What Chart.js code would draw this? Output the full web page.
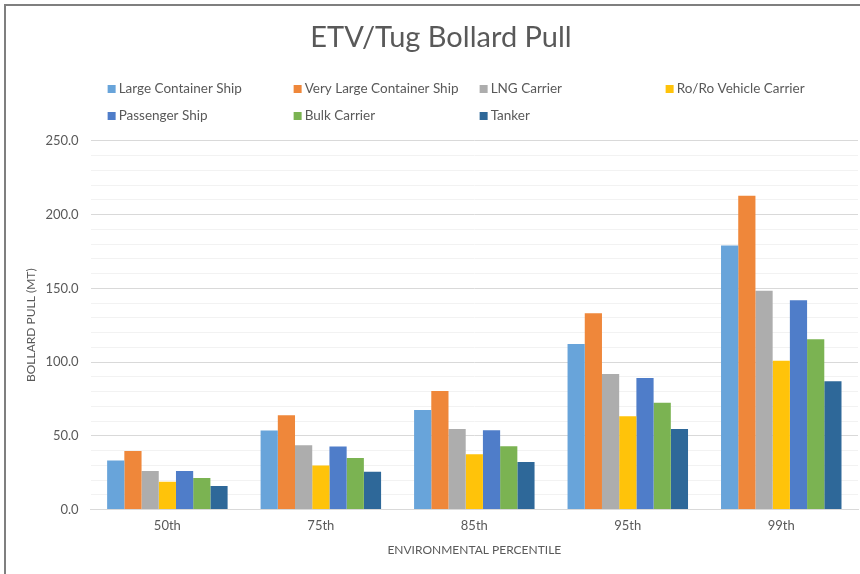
<!DOCTYPE html>
<html>
<head>
<meta charset="utf-8">
<script src="https://cdn.jsdelivr.net/npm/chart.js@4.4.1/dist/chart.umd.min.js"></script>
<style>
  html, body { margin: 0; padding: 0; background: #fff; }
  #wrap { width: 860px; height: 574px; position: relative; }
</style>
</head>
<body>
<div id="wrap"><canvas id="c" width="860" height="574"></canvas></div>
<script>
const categories = ["50th", "75th", "85th", "95th", "99th"];
const largeContainerShip     = [33.3, 53.6, 67.6, 112.2, 179.1];
const veryLargeContainerShip = [39.8, 64.0, 80.4, 133.1, 212.8];
const lngCarrier             = [26.2, 43.7, 54.7, 91.9, 148.4];
const roRoVehicleCarrier     = [18.9, 29.9, 37.6, 63.3, 100.9];
const passengerShip          = [26.2, 42.8, 53.8, 89.2, 141.9];
const bulkCarrier            = [21.4, 34.9, 43.0, 72.5, 115.5];
const tanker                 = [16.0, 25.7, 32.2, 54.7, 87.0];
const seriesNames = ["Large Container Ship", "Very Large Container Ship", "LNG Carrier", "Ro/Ro Vehicle Carrier", "Passenger Ship", "Bulk Carrier", "Tanker"];
const seriesValues = [largeContainerShip, veryLargeContainerShip, lngCarrier, roRoVehicleCarrier, passengerShip, bulkCarrier, tanker];
const seriesColors = ["#68A4DA", "#EF873A", "#ADADAD", "#FFC30A", "#4F7DC9", "#7BB352", "#2E6899"];

const FONT = "Lato, 'Open Sans', sans-serif";
const TEXT = "#595959";

const frame = {
  id: 'frame',
  beforeDraw(chart) {
    const ctx = chart.ctx;
    ctx.save();
    ctx.fillStyle = '#fff';
    ctx.fillRect(0, 0, chart.width, chart.height);
    ctx.strokeStyle = '#7f7f7f';
    ctx.lineWidth = 2;
    ctx.beginPath();
    ctx.moveTo(5, chart.height);
    ctx.lineTo(5, 5);
    ctx.lineTo(chart.width, 5);
    ctx.stroke();
    ctx.restore();
  }
};

const colLegend = {
  id: 'colLegend',
  afterDraw(chart) {
    const ctx = chart.ctx;
    const area = chart.chartArea;
    ctx.save();
    ctx.font = "13.5px " + FONT;
    ctx.textBaseline = 'middle';
    ctx.textAlign = 'left';
    chart.data.datasets.forEach((ds, i) => {
      const col = i % 4, row = Math.floor(i / 4);
      const x = area.left + 17 + col * 186;
      const y = 89 + row * 27;
      ctx.fillStyle = ds.backgroundColor;
      ctx.fillRect(x, y - 4, 8, 8);
      ctx.fillStyle = TEXT;
      ctx.fillText(ds.label, x + 11, y);
    });
    ctx.restore();
  }
};

new Chart(document.getElementById('c'), {
  type: 'bar',
  data: {
    labels: categories,
    datasets: seriesNames.map((name, i) => ({
      label: name,
      data: seriesValues[i],
      backgroundColor: seriesColors[i],
      borderWidth: 0,
      categoryPercentage: 0.785,
      barPercentage: 1.0
    }))
  },
  options: {
    responsive: false,
    animation: false,
    layout: { padding: { top: 12, left: 24, right: 2, bottom: 17 } },
    plugins: {
      legend: { display: false },
      tooltip: { enabled: false },
      title: {
        display: true,
        text: "ETV/Tug Bollard Pull",
        color: TEXT,
        font: { family: FONT, size: 29, weight: 'normal' },
        padding: { top: 8, bottom: 86 }
      }
    },
    scales: {
      x: {
        grid: { display: false, drawTicks: false },
        border: { display: true, color: '#D9D9D9', width: 1 },
        ticks: { color: TEXT, font: { family: FONT, size: 13, lineHeight: 1.0 }, padding: 10 },
        title: {
          display: true,
          text: "ENVIRONMENTAL PERCENTILE",
          color: TEXT,
          font: { family: FONT, size: 12 },
          padding: { top: 0, bottom: 0 }
        }
      },
      y: {
        min: 0,
        max: 250,
        border: { display: false },
        grid: {
          drawTicks: false,
          color: (ctx) => (ctx.tick && ctx.tick.value % 50 === 0) ? '#D9D9D9' : '#F2F2F2',
          lineWidth: 1
        },
        ticks: {
          stepSize: 10,
          autoSkip: false,
          padding: 12,
          color: TEXT,
          font: { family: FONT, size: 13 },
          callback: (v) => (v % 50 === 0 ? v.toFixed(1) : '')
        },
        title: {
          display: true,
          text: "BOLLARD PULL (MT)",
          color: TEXT,
          font: { family: FONT, size: 12 },
          padding: { top: 0, bottom: -5 }
        }
      }
    }
  },
  plugins: [frame, colLegend]
});
</script>
</body>
</html>
